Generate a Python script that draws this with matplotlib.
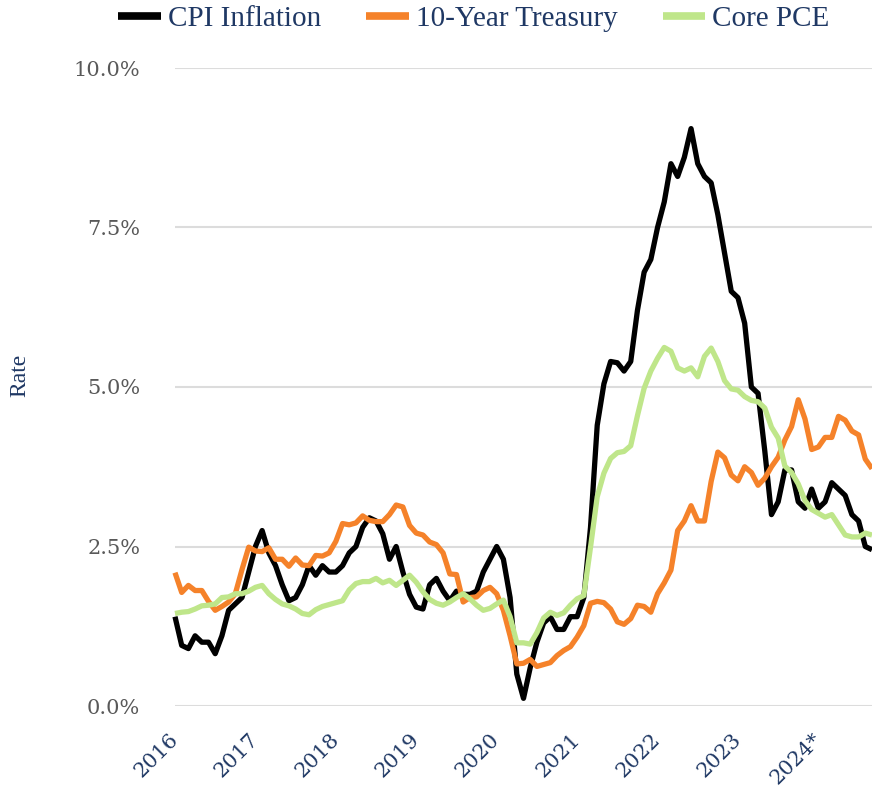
import matplotlib
matplotlib.use("Agg")
import matplotlib.pyplot as plt
from matplotlib.ticker import FixedLocator, FuncFormatter

# Monthly data, Jan 2016 .. Sep 2024 (index 0 .. 104)
cpi = [1.4, 0.95, 0.9, 1.1, 1.0, 1.0, 0.82, 1.1, 1.5, 1.6, 1.7, 2.1,
       2.5, 2.75, 2.4, 2.2, 1.9, 1.65, 1.7, 1.9, 2.2, 2.05, 2.2, 2.1,
       2.1, 2.2, 2.4, 2.5, 2.8, 2.95, 2.9, 2.7, 2.3, 2.5, 2.1, 1.75,
       1.55, 1.52, 1.9, 2.0, 1.8, 1.65, 1.8, 1.75, 1.75, 1.8, 2.1, 2.3,
       2.5, 2.3, 1.7, 0.5, 0.12, 0.6, 1.0, 1.3, 1.4, 1.2, 1.2, 1.4,
       1.4, 1.7, 2.8, 4.4, 5.05, 5.4, 5.38, 5.25, 5.4, 6.2, 6.8, 7.0,
       7.5, 7.9, 8.5, 8.3, 8.6, 9.05, 8.5, 8.3, 8.2, 7.7, 7.1, 6.5,
       6.4, 6.0, 5.0, 4.9, 4.0, 3.0, 3.2, 3.7, 3.7, 3.2, 3.1, 3.4,
       3.1, 3.2, 3.5, 3.4, 3.3, 3.0, 2.9, 2.5, 2.45]

treasury = [2.09, 1.78, 1.89, 1.81, 1.81, 1.64, 1.50, 1.56, 1.63, 1.76, 2.14, 2.49,
            2.43, 2.42, 2.48, 2.30, 2.30, 2.19, 2.32, 2.21, 2.20, 2.36, 2.35, 2.40,
            2.58, 2.86, 2.84, 2.87, 2.98, 2.91, 2.89, 2.89, 3.00, 3.15, 3.12, 2.83,
            2.71, 2.68, 2.57, 2.53, 2.40, 2.07, 2.06, 1.63, 1.70, 1.71, 1.81, 1.86,
            1.76, 1.50, 1.10, 0.66, 0.67, 0.73, 0.62, 0.65, 0.68, 0.79, 0.87, 0.93,
            1.08, 1.26, 1.61, 1.64, 1.62, 1.52, 1.32, 1.28, 1.37, 1.58, 1.56, 1.47,
            1.76, 1.93, 2.13, 2.75, 2.90, 3.14, 2.90, 2.90, 3.52, 3.98, 3.89, 3.62,
            3.53, 3.75, 3.66, 3.46, 3.57, 3.75, 3.90, 4.17, 4.38, 4.80, 4.50, 4.02,
            4.06, 4.21, 4.21, 4.54, 4.48, 4.31, 4.25, 3.87, 3.72]

core_pce = [1.45, 1.47, 1.48, 1.52, 1.57, 1.58, 1.60, 1.70, 1.71, 1.76, 1.76, 1.80,
            1.86, 1.89, 1.76, 1.67, 1.60, 1.57, 1.52, 1.45, 1.43, 1.51, 1.56, 1.59,
            1.62, 1.65, 1.82, 1.92, 1.95, 1.95, 2.00, 1.93, 1.97, 1.89, 1.97, 2.05,
            1.94, 1.79, 1.67, 1.61, 1.58, 1.63, 1.70, 1.76, 1.68, 1.58, 1.50, 1.53,
            1.60, 1.66, 1.40, 0.99, 0.99, 0.97, 1.15, 1.38, 1.47, 1.42, 1.46, 1.58,
            1.68, 1.73, 2.49, 3.28, 3.65, 3.88, 3.97, 3.99, 4.08, 4.55, 4.98, 5.25,
            5.45, 5.62, 5.56, 5.30, 5.25, 5.30, 5.16, 5.48, 5.61, 5.40, 5.10, 4.97,
            4.95, 4.85, 4.79, 4.77, 4.67, 4.37, 4.20, 3.76, 3.66, 3.48, 3.22, 3.08,
            3.02, 2.96, 3.00, 2.84, 2.68, 2.65, 2.65, 2.71, 2.68]

series_names = ["CPI Inflation", "10-Year Treasury", "Core PCE"]
year_labels = ["2016", "2017", "2018", "2019", "2020", "2021", "2022", "2023", "2024*"]
y_ticks = [0.0, 2.5, 5.0, 7.5, 10.0]

colors = ["#000000", "#F5822A", "#BFE68A"]
navy = "#1F3864"

months = list(range(len(cpi)))

fig = plt.figure(figsize=(8.72, 7.93), dpi=100)
ax = fig.add_axes([175/872, 1 - 706/793, (872 - 175)/872, (706 - 68)/793])

handles = []
for vals, col, name in zip([cpi, treasury, core_pce], colors, series_names):
    h, = ax.plot(months, vals, color=col, lw=3.8, solid_joinstyle="round",
                 solid_capstyle="butt", label=name, clip_on=False, zorder=3)
    handles.append(h)

ax.set_xlim(0, len(cpi) - 1)
ax.set_ylim(0, 10)

for s in ax.spines.values():
    s.set_visible(False)

ax.yaxis.set_major_locator(FixedLocator(y_ticks))
ax.yaxis.set_major_formatter(FuncFormatter(lambda v, p: f"{v:.1f}%"))
ax.grid(axis="y", color="#DCDCDC", lw=1.5, zorder=0)
ax.tick_params(axis="y", length=0, pad=25, labelsize=15, labelcolor="#595959")
for lbl in ax.get_yticklabels():
    lbl.set_fontfamily("DejaVu Serif")

ax.set_xticks([12 * i for i in range(len(year_labels))])
ax.set_xticklabels(year_labels, rotation=45, ha="right", va="center",
                   rotation_mode="anchor", fontsize=15, color=navy,
                   fontfamily="DejaVu Serif")
ax.tick_params(axis="x", length=0, pad=22)

fig.text(20/872, 1 - 375/793, "Rate", rotation=90, ha="center", va="center",
         fontsize=17, color=navy, fontfamily="Liberation Serif")

leg = fig.legend(handles=handles, labels=series_names, loc="center",
                 bbox_to_anchor=(474/872, 1 - 19/793), ncol=3, frameon=False,
                 handlelength=1.45, handletextpad=0.25, columnspacing=1.55,
                 prop={"family": "Liberation Serif", "size": 21})
for t in leg.get_texts():
    t.set_color(navy)
for lh in leg.get_lines():
    lh.set_linewidth(5.5)

fig.savefig("out.png", dpi=100)
